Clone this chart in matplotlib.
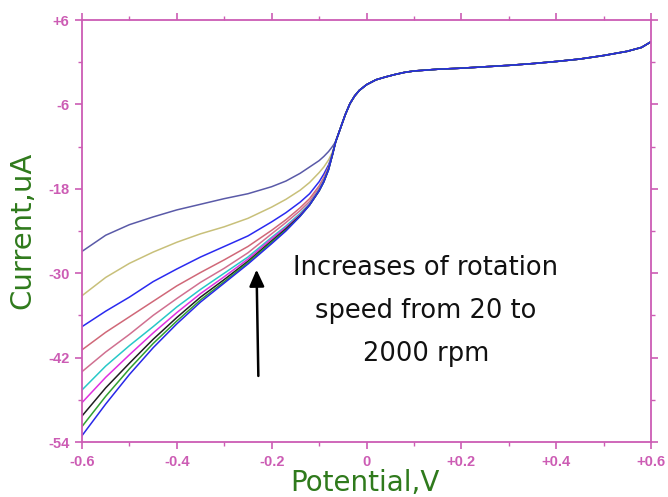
import numpy as np
import matplotlib
matplotlib.use("Agg")
import matplotlib.pyplot as plt
from matplotlib.ticker import MultipleLocator

# potentials where the curves still differ (V)
pot_low = [-0.6, -0.55, -0.5, -0.45, -0.4, -0.35, -0.3, -0.25, -0.2, -0.17, -0.14,
           -0.12, -0.1, -0.09, -0.08, -0.072]
# potentials where all curves coincide (V)
pot_high = [-0.065, -0.055, -0.045, -0.035, -0.025, -0.015, 0.0, 0.02, 0.04, 0.06, 0.08, 0.1,
            0.15, 0.2, 0.25, 0.3, 0.35, 0.4, 0.45, 0.5, 0.55, 0.58, 0.6]
cur_high = [-11.3, -9.4, -7.5, -5.9, -4.8, -4.0, -3.2, -2.5, -2.1, -1.75, -1.45, -1.25,
            -1.0, -0.85, -0.65, -0.45, -0.2, 0.1, 0.45, 0.95, 1.55, 2.1, 2.9]

# current (uA) of each rotation speed, slowest first
cur_s1 = [-26.9, -24.6, -23.1, -22.0, -21.0, -20.2, -19.4, -18.7, -17.7, -16.9, -15.8, -14.9, -14.0, -13.4, -12.7, -12.0]
cur_s2 = [-33.2, -30.6, -28.6, -27.0, -25.6, -24.4, -23.4, -22.2, -20.6, -19.5, -18.2, -17.1, -15.7, -14.9, -13.9, -12.8]
cur_s3 = [-37.6, -35.4, -33.4, -31.2, -29.4, -27.7, -26.2, -24.7, -22.7, -21.4, -19.9, -18.7, -17.0, -15.9, -14.6, -13.1]
cur_s4 = [-40.9, -38.4, -36.2, -34.0, -31.8, -29.9, -28.1, -26.2, -23.9, -22.4, -20.7, -19.4, -17.6, -16.4, -14.9, -13.2]
cur_s5 = [-44.0, -41.2, -38.7, -36.0, -33.6, -31.3, -29.3, -27.1, -24.4, -22.8, -21.1, -19.8, -17.9, -16.6, -15.0, -13.2]
cur_s6 = [-46.6, -43.2, -40.3, -37.6, -34.8, -32.3, -30.0, -27.7, -24.9, -23.3, -21.5, -20.1, -18.1, -16.8, -15.1, -13.2]
cur_s7 = [-48.4, -44.8, -41.6, -38.5, -35.6, -32.9, -30.5, -28.0, -25.1, -23.5, -21.7, -20.2, -18.2, -16.9, -15.2, -13.2]
cur_s8 = [-50.3, -46.3, -42.8, -39.4, -36.3, -33.4, -30.9, -28.3, -25.4, -23.7, -21.8, -20.3, -18.3, -17.0, -15.2, -13.2]
cur_s9 = [-51.8, -47.5, -43.6, -40.0, -36.8, -33.8, -31.2, -28.5, -25.6, -23.9, -21.9, -20.3, -18.3, -17.0, -15.3, -13.2]
cur_s10 = [-53.1, -48.6, -44.4, -40.6, -37.2, -34.1, -31.4, -28.7, -25.8, -24.0, -21.9, -20.3, -18.3, -17.0, -15.3, -13.2]

series = [cur_s1, cur_s2, cur_s3, cur_s4, cur_s5, cur_s6, cur_s7, cur_s8, cur_s9, cur_s10]
colors = ['#5a5aa8', '#c8c07a', '#2a2af0', '#d06878', '#d07090',
          '#28c8c8', '#e030e0', '#202020', '#30a030', '#2828e8']

x_ticks = [-0.6, -0.4, -0.2, 0.0, 0.2, 0.4, 0.6]
x_labels = ['-0.6', '-0.4', '-0.2', '0', '+0.2', '+0.4', '+0.6']
y_ticks = [6, -6, -18, -30, -42, -54]
y_labels = ['+6', '-6', '-18', '-30', '-42', '-54']

pink = '#cc5cb4'
green = '#2f7a1c'

fig = plt.figure(figsize=(6.68, 4.97), dpi=100)
ax = fig.add_axes([82 / 668, 1 - 442 / 497, (651 - 82) / 668, (442 - 20) / 497])

pot = np.array(pot_low + pot_high)
for cur, col in zip(series, colors):
    ax.plot(pot, np.array(cur + cur_high), color=col, lw=1.1)

ax.set_xlim(-0.6, 0.6)
ax.set_ylim(-54, 6)
ax.set_xticks(x_ticks)
ax.set_xticklabels(x_labels)
ax.set_yticks(y_ticks)
ax.set_yticklabels(y_labels)
ax.xaxis.set_minor_locator(MultipleLocator(0.1))
ax.yaxis.set_minor_locator(MultipleLocator(6))

for sp in ax.spines.values():
    sp.set_color(pink)
    sp.set_linewidth(1.3)
ax.tick_params(which='both', direction='out', colors=pink, top=True, right=True,
               labeltop=False, labelright=False)
ax.tick_params(which='major', length=5, width=1.2, labelsize=10.5, pad=4)
ax.tick_params(which='minor', length=3, width=1.0)
for lab in ax.get_xticklabels() + ax.get_yticklabels():
    lab.set_fontweight('bold')
    lab.set_family('Liberation Sans')

fig.text(365 / 668, 1 - 491 / 497, 'Potential,V', color=green, fontsize=20,
         ha='center', va='baseline')
fig.text(22 / 668, 1 - 230 / 497, 'Current,uA', color=green, fontsize=21,
         ha='center', va='center', rotation=90)

ax.text(0.125, -35.4, 'Increases of rotation\nspeed from 20 to\n2000 rpm',
        ha='center', va='center', fontsize=18.5, linespacing=1.85, color='#111111')
ax.annotate('', xy=(-0.232, -29.1), xytext=(-0.228, -45.0),
            arrowprops=dict(arrowstyle='-|>,head_length=1.0,head_width=0.45',
                            color='black', lw=1.8))

fig.savefig('out.png', dpi=100)
